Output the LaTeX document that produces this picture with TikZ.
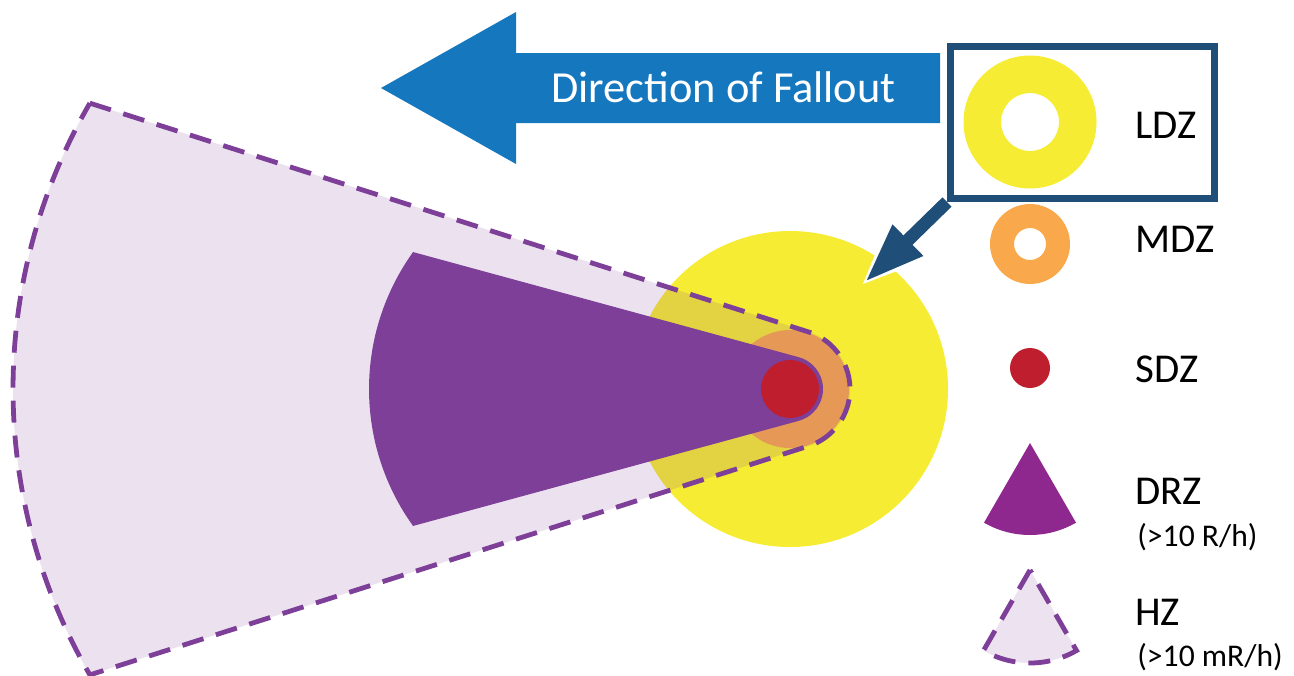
\documentclass[tikz,border=0pt]{standalone}
\usepackage{fontspec}
\setmainfont{Carlito}
\usetikzlibrary{positioning, arrows.meta, calc}
\definecolor{ldzyellow}{HTML}{F5EC33}
\definecolor{mdzorange}{HTML}{F9A94B}
\definecolor{sdzred}{HTML}{BE1E2D}
\definecolor{drzpurple}{HTML}{7D3F97}
\definecolor{drzmagenta}{HTML}{8E288E}
\definecolor{hzlilac}{HTML}{EDE2F0}
\definecolor{falloutblue}{HTML}{1577BE}
\definecolor{boxblue}{HTML}{1F4E79}

\begin{document}
\begin{tikzpicture}[
          x=0.5pt, y=0.5pt,
          hzline/.style={draw=drzpurple, line width=2.4pt, dash pattern=on 11pt off 6.5pt},
          zonelabel/.style={anchor=base west, inner sep=0pt, font=\fontsize{20.5}{24}\selectfont},
          ratelabel/.style={anchor=base west, inner sep=0pt, font=\fontsize{15.8}{18}\selectfont},
        ]
        \useasboundingbox (0,0) rectangle (1294,-675);

        % Ground zero and arc centres
        \coordinate (gz) at (790,-389);
        \coordinate (hzc) at (583,-389);
        \coordinate (drzc) at (604,-389);

        % Damage zones
        \fill[ldzyellow] (gz) circle[radius=158];
        \fill[mdzorange] (gz) circle[radius=59];

        % Hot zone
        \path[fill=drzpurple, fill opacity=0.15]
          ($(hzc)+(149.9:570)$) -- ($(gz)+(72.3:60)$) arc[start angle=72.3, end angle=-72.3, radius=60]
          -- ($(hzc)+(210.1:570)$) arc[start angle=210.1, end angle=149.9, radius=570] -- cycle;
        \draw[hzline]
          ($(hzc)+(149.9:570)$) -- ($(gz)+(72.3:60)$) arc[start angle=72.3, end angle=-72.3, radius=60]
          -- ($(hzc)+(210.1:570)$) arc[start angle=210.1, end angle=149.9, radius=570] -- cycle;

        % Dangerous radiation zone
        \fill[drzpurple]
          ($(drzc)+(144.35:235)$) -- ($(gz)+(74.75:33)$) arc[start angle=74.75, end angle=-74.75, radius=33]
          -- ($(drzc)+(215.65:235)$) arc[start angle=215.65, end angle=144.35, radius=235] -- cycle;
        \fill[sdzred] (gz) circle[radius=29];

        % Direction of fallout
        \fill[falloutblue] (381,-88) -- (516,-12) -- (516,-53) -- (940,-53) -- (940,-123)
          -- (516,-123) -- (516,-164) -- cycle;
        \node[white, anchor=base, inner sep=0pt, font=\fontsize{22.2}{26}\selectfont] (falloutlbl) at (723.5,-102) {Direction of Fallout};

        % Legend
        \node[draw=boxblue, line width=3.5pt, minimum width=132pt, minimum height=76pt, inner sep=0pt] (ldzbox) at (1082.5,-122.5) {};
        \coordinate (ldzend) at (865,-282);
        \coordinate (haloend) at ($(ldzend)+(224:6)$);
        \draw[white, line width=10pt, -{Triangle[length=35pt, width=26pt]}] (ldzbox.south west) -- (haloend);
        \draw[boxblue, line width=6.5pt, -{Triangle[length=30pt, width=20pt]}] (ldzbox.south west) -- (ldzend);

        \fill[ldzyellow, even odd rule] (1030,-122) circle[radius=66.5] circle[radius=29];
        \fill[mdzorange, even odd rule] (1030,-244) circle[radius=40] circle[radius=16];
        \fill[sdzred] (1030,-368) circle[radius=20];
        \fill[drzmagenta] (1030,-443) -- ++(240:92) arc[start angle=240, end angle=300, radius=92] -- cycle;
        \draw[hzline, fill=hzlilac] (1030,-570) -- ++(240:93) arc[start angle=240, end angle=300, radius=93] -- cycle;

        \foreach \zone/\y in {LDZ/138, MDZ/252, SDZ/382, DRZ/504, HZ/625} {
          \node[zonelabel] (lbl\zone) at (1135,-\y) {\zone};
        }
        \node[ratelabel] (drzrate) at (1137,-546) {(>10 R/h)};
        \node[ratelabel] (hzrate) at (1137,-666) {(>10 mR/h)};
      \end{tikzpicture}
\end{document}
